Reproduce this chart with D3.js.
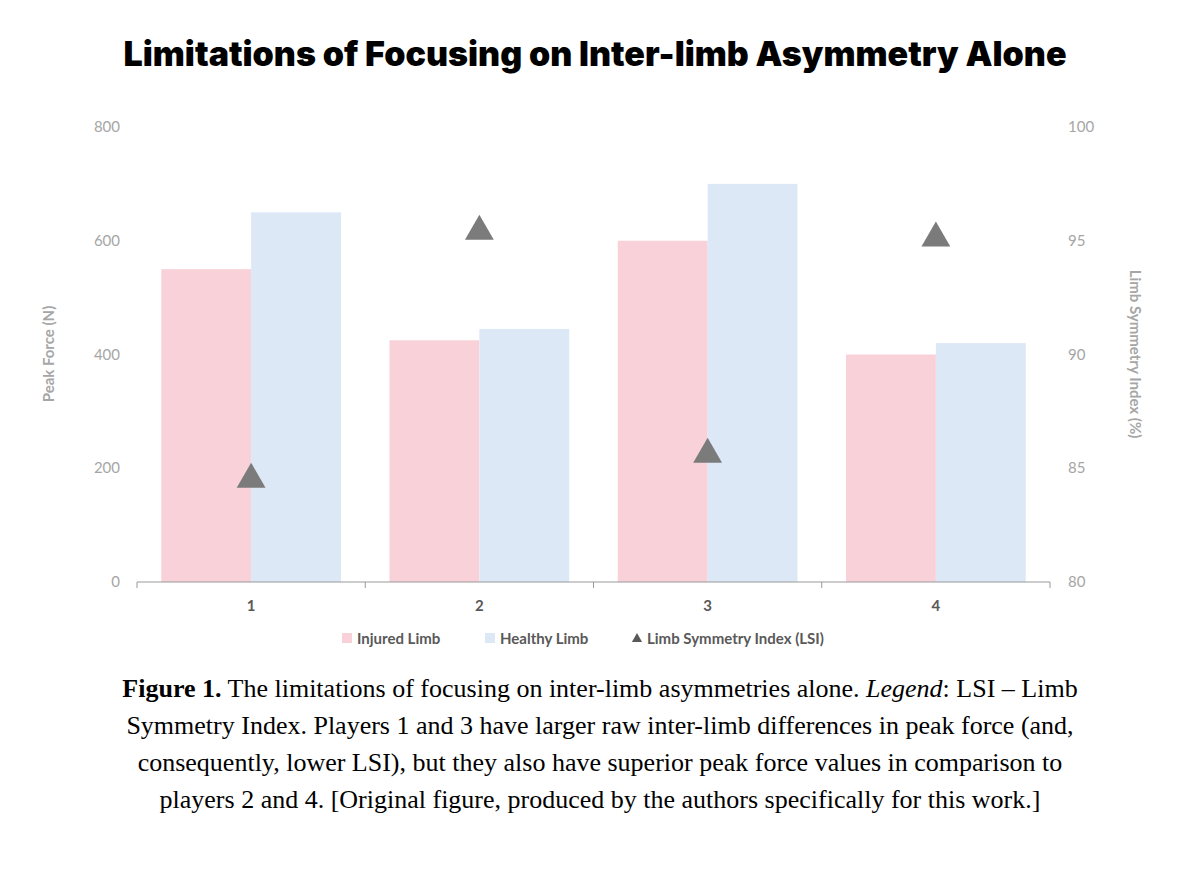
<!DOCTYPE html>
<html><head><meta charset="utf-8">
<script src="https://cdn.jsdelivr.net/npm/d3@7"></script>
<style>
body{margin:0;background:#fff;}
.cap{position:absolute;left:0;top:670px;width:1200px;text-align:center;font-family:"Liberation Serif",Tinos,"Times New Roman",serif;font-size:26px;line-height:37px;color:#000;}
</style></head>
<body>
<svg width="1200" height="873"></svg>
<div class="cap"><b>Figure 1.</b> The limitations of focusing on inter-limb asymmetries alone. <i>Legend</i>: LSI – Limb<br>Symmetry Index. Players 1 and 3 have larger raw inter-limb differences in peak force (and,<br>consequently, lower LSI), but they also have superior peak force values in comparison to<br>players 2 and 4. [Original figure, produced by the authors specifically for this work.]</div>
<script>
const players = ["1", "2", "3", "4"];
const injured = [550, 425, 600, 400];
const healthy = [650, 445, 700, 420];
const lsi = [84.6, 95.5, 85.7, 95.2];
const leftTicks = [0, 200, 400, 600, 800];
const rightTicks = [80, 85, 90, 95, 100];

const svg = d3.select("svg");
const font = "Lato, 'Open Sans', sans-serif";
const grey = "#a6a6a6";

svg.append("text").attr("x", 595).attr("y", 66).attr("text-anchor", "middle")
  .style("font-family", "Inter, 'Open Sans', sans-serif").style("font-weight", 900)
  .style("font-size", "34px").text("Limitations of Focusing on Inter-limb Asymmetry Alone");

const x = d3.scaleBand().domain(players).range([137, 1050]);
const xs = d3.scaleBand().domain(["inj", "hea"]).range([0, x.bandwidth()]).paddingOuter(0.27);
const y = d3.scaleLinear().domain([0, 800]).range([582, 127]);
const y2 = d3.scaleLinear().domain([80, 100]).range([582, 127]);

const g = svg.append("g");
players.forEach((p, i) => {
  g.append("rect").attr("x", x(p) + xs("inj")).attr("width", xs.bandwidth())
    .attr("y", y(injured[i])).attr("height", y(0) - y(injured[i])).attr("fill", "#f9d1d9");
  g.append("rect").attr("x", x(p) + xs("hea")).attr("width", xs.bandwidth())
    .attr("y", y(healthy[i])).attr("height", y(0) - y(healthy[i])).attr("fill", "#dce8f5");
});

// x axis
g.append("line").attr("x1", 137).attr("x2", 1050).attr("y1", 582).attr("y2", 582).attr("stroke", "#999");
players.concat(["end"]).forEach((p, i) => {
  const xx = 137 + i * x.step();
  g.append("line").attr("x1", xx).attr("x2", xx).attr("y1", 582).attr("y2", 588).attr("stroke", "#999");
});
players.forEach(p => {
  g.append("text").attr("x", x(p) + x.bandwidth() / 2).attr("y", 611).attr("text-anchor", "middle")
    .style("font-family", font).style("font-weight", "bold").style("font-size", "15px").attr("fill", "#595959").text(p);
});

leftTicks.forEach(t => g.append("text").attr("x", 120).attr("y", y(t) + 5).attr("text-anchor", "end")
  .style("font-family", font).style("font-size", "15px").attr("fill", grey).text(t));
rightTicks.forEach(t => g.append("text").attr("x", 1068).attr("y", y2(t) + 5)
  .style("font-family", font).style("font-size", "15px").attr("fill", grey).text(t));

g.append("text").attr("transform", "translate(54,354) rotate(-90)").attr("text-anchor", "middle")
  .style("font-family", font).style("font-weight", "bold").style("font-size", "15px").attr("fill", grey).text("Peak Force (N)");
g.append("text").attr("transform", "translate(1130,354) rotate(90)").attr("text-anchor", "middle")
  .style("font-family", font).style("font-weight", "bold").style("font-size", "15px").attr("fill", grey).text("Limb Symmetry Index (%)");

const tri = d3.symbol().type(d3.symbolTriangle).size(360);
players.forEach((p, i) => {
  g.append("path").attr("d", tri).attr("fill", "#7b7b7b")
    .attr("transform", `translate(${x(p) + x.bandwidth() / 2},${y2(lsi[i]) + 2})`);
});

// legend
const lg = svg.append("g").style("font-family", font).style("font-weight", "bold").style("font-size", "15px").attr("fill", "#595959");
lg.append("rect").attr("x", 342).attr("y", 633).attr("width", 10).attr("height", 10).attr("fill", "#f9d1d9");
lg.append("text").attr("x", 357).attr("y", 644).text("Injured Limb");
lg.append("rect").attr("x", 485).attr("y", 633).attr("width", 10).attr("height", 10).attr("fill", "#dce8f5");
lg.append("text").attr("x", 500).attr("y", 644).text("Healthy Limb");
lg.append("path").attr("d", d3.symbol().type(d3.symbolTriangle).size(45)).attr("fill", "#595959").attr("transform", "translate(637,639)");
lg.append("text").attr("x", 647).attr("y", 644).text("Limb Symmetry Index (LSI)");
</script>
</body></html>
